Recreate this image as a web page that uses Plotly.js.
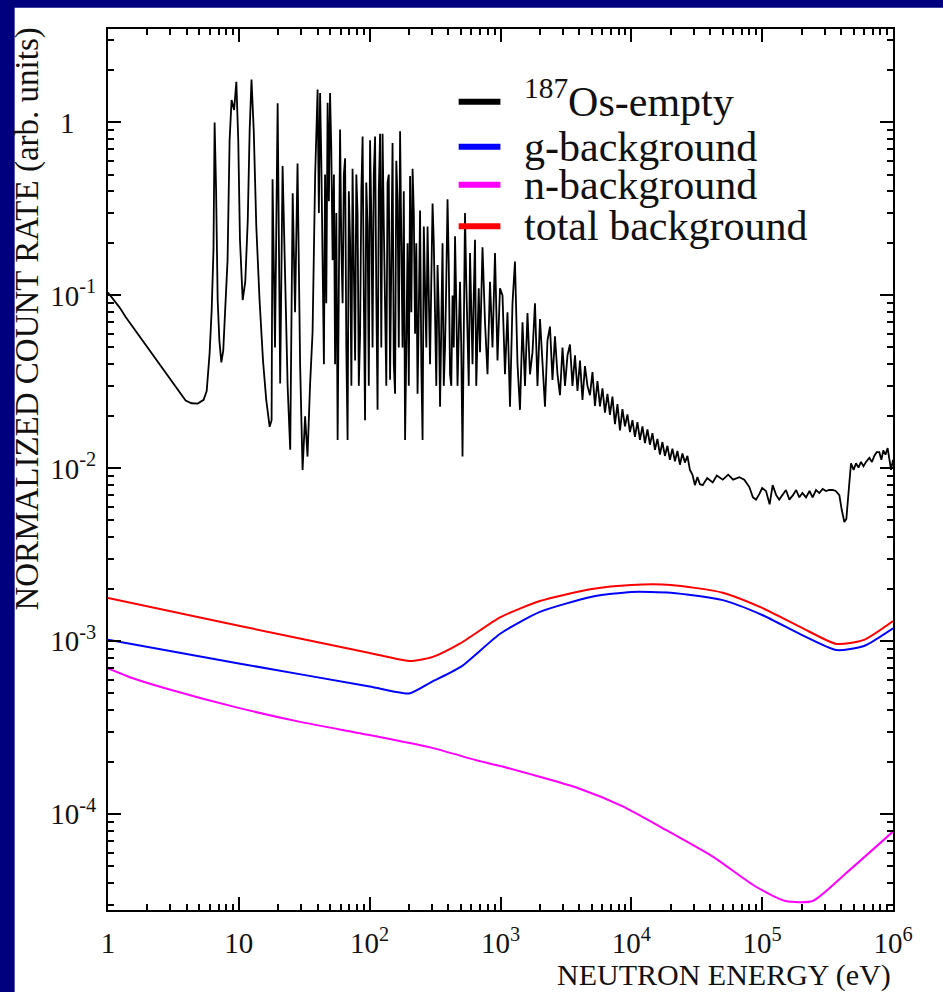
<!DOCTYPE html>
<html><head><meta charset="utf-8">
<script src="https://cdn.plot.ly/plotly-3.0.1.min.js"></script>
<style>
html,body{margin:0;padding:0;background:#00007f;width:943px;height:992px;overflow:hidden;}
#chart{position:absolute;left:0;top:0;width:943px;height:992px;}
</style></head><body><div id="chart"></div>
<script>
// 187Os-empty spectrum (energy in eV, normalized count rate)
const osEnergy = [1.0,1.105,1.228,1.365,1.517,1.746,2.01,2.314,2.665,3.066,3.53,3.92,4.36,4.85,5.38,5.68,5.98,6.2,6.4,6.53,6.7,6.89,7.1,7.35,7.6,7.9,8.2,8.5,8.8,9.2,9.57,9.9,10.2,10.7,11.2,11.7,12.1,12.5,13.0,13.6,14.4,15.3,16.2,17.2,17.8,
18.1,18.9,19.8,20.7,21.6,22.6,23.6,24.7,25.8,26.9,28.1,29.4,30.7,32.1,33.5,35.0,36.6,38.3,
40.0,40.9,41.8,42.7,43.7,44.7,45.6,46.6,47.7,48.8,49.8,50.9,52.1,53.3,54.4,55.6,56.9,58.2,59.4,60.7,62.1,63.5,64.9,66.3,67.8,69.3,70.9,72.5,74.0,75.6,77.4,79.1,80.8,82.6,84.5,86.4,88.3,90.2,92.2,94.2,96.4,98.5,100.7,102.9,105.2,107.5,110.0,112.4,114.9,117.4,120.1,122.7,125.5,128.3,131.1,134.0,137.0,140.0,143.2,146.4,149.6,152.9,156.4,159.8,163.4,167.0,170.8,174.6,178.4,182.3,186.5,190.6,194.8,199.1,203.6,208.1,212.8,217.5,222.3,227.2,232.3,237.4,242.8,248.2,253.7,259.3,265.1,271.0,277.0,283.1,289.4,295.8,302.5,309.2,316.0,323.0,330.3,337.6,345.1,352.7,360.6,368.5,376.8,385.1,393.7,402.4,411.4,420.5,429.9,439.4,449.2,459.1,469.4,479.7,490.5,501.3,512.5,523.8,535.5,547.3,559.6,571.9,584.8,597.7,611.1,624.6,638.5,652.6,667.2,681.9,697.2,712.9,
728.6,761.3,795.6,831.3,868.7,907.8,948.6,991.3,1036,1082,1131,1182,1235,1290,1349,1409,1473,1539,1608,1680,1756,1835,1917,2004,2094,2188,2286,2389,
2496,2608,2726,2849,2977,3111,3251,3396,3549,3709,3876,4050,4232,4422,4621,4829,5046,5272,5510,5757,6016,6287,6569,6865,7173,7496,7833,8185,8553,8937,9339,9759,10200,10660,11130,11640,12160,12710,13280,13870,14500,15150,15830,16540,17280,18060,18870,19720,20610,21540,22500,23520,24570,25680,26830,28040,29300,30620,32000,33440,
35110,38000,41880,45000,50000,55000,60000,67000,73000,79800,85000,89800,95000,100000,107000,114000,120300,128000,135000,143500,152000,161400,172000,182000,192300,203000,216400,230000,243000,258000,273500,290000,307600,325000,345900,365000,389000,405000,424800,440000,450100,465000,477300,500000,521300,545000,569000,595000,622000,659000,690000,719600,750000,785600,815000,843000,875000,909900,940000,966000,1000000];
const osRate = [0.104,0.094,0.085,0.075,0.067,0.058,0.050,0.043,0.037,0.032,0.0275,0.0247,0.0238,0.0237,0.0249,0.028,0.0464,0.082,0.184,1.0,0.41,0.094,0.055,0.041,0.048,0.094,0.16,0.79,1.35,1.18,1.72,0.79,0.21,0.094,0.12,0.27,0.90,1.77,0.9,0.25,0.094,0.042,0.0249,0.0174,0.019,
0.47,0.05,1.29,0.031,0.56,0.15,0.03,0.0128,0.39,0.08,0.58,0.04,0.0098,0.02,0.0117,0.03,0.061,0.49,
1.55,0.3,1.48,0.6,0.102,0.04,0.5,0.09,1.30,0.35,1.48,0.7,0.16,0.5,0.04,0.3,0.0146,0.1,0.91,0.2,0.09,0.5,0.62,0.05,0.0146,0.4,0.2,0.03,0.54,0.15,0.042,0.5,0.3,0.03,0.06,0.4,0.83,0.1,0.019,0.45,0.25,0.03,0.79,0.3,0.05,0.5,0.83,0.1,0.0218,0.4,0.86,0.05,0.86,0.25,0.06,0.03,0.45,0.5,0.0325,0.15,0.76,0.04,0.027,0.6,0.35,0.05,0.89,0.2,0.05,0.4,0.0146,0.05,0.2,0.03,0.49,0.08,0.54,0.3,0.06,0.2,0.027,0.08,0.31,0.04,0.0146,0.25,0.12,0.05,0.25,0.11,0.04,0.12,0.34,0.2,0.058,0.03,0.15,0.08,0.0227,0.1,0.2,0.03,0.05,0.12,0.36,0.15,0.035,0.03,0.10,0.05,0.22,0.09,0.03,0.06,0.12,0.05,0.0117,0.06,0.30,0.12,0.05,0.03,0.176,0.09,0.04,0.1,0.21,0.03,0.06,0.11,0.047,0.1,
0.19,0.07,0.035,0.12,0.05,0.176,0.042,0.11,0.10,0.035,0.08,0.0227,0.09,0.157,0.04,0.0218,0.07,0.03,0.079,0.035,0.047,0.09,0.03,0.073,0.04,0.0227,0.055,0.066,
0.0325,0.058,0.035,0.0265,0.05,0.03,0.045,0.052,0.03,0.045,0.028,0.042,0.0249,0.039,0.03,0.0265,0.036,0.023,0.032,0.0228,0.029,0.021,0.027,0.0204,0.026,0.018,0.0235,0.0166,0.022,0.0175,0.0205,0.0162,0.019,0.0152,0.0185,0.0146,0.0175,0.014,0.0168,0.0137,0.016,0.0128,0.0148,0.012,0.0142,0.0118,0.0135,0.0112,0.013,0.011,0.0126,0.0105,0.0122,0.0108,0.0118,0.0098,0.0092,0.0080,0.0089,0.0081,
0.0080,0.0088,0.0083,0.0091,0.0086,0.0092,0.0086,0.0089,0.0086,0.0078,0.0068,0.0066,0.0071,0.0077,0.0074,0.0062,0.0080,0.0070,0.0066,0.0070,0.0075,0.0066,0.0070,0.0075,0.0068,0.0072,0.0068,0.0074,0.0068,0.0075,0.0072,0.0076,0.0074,0.0075,0.0075,0.0074,0.0070,0.0058,0.0049,0.0051,0.0063,0.0092,0.0107,0.0098,0.0107,0.0101,0.0109,0.0103,0.0109,0.0115,0.0109,0.0118,0.0124,0.0124,0.0112,0.0127,0.0120,0.0131,0.0112,0.0098,0.0112];

// gamma and total background
const bgEnergy = [1,10,100,200,300,500,1000,2000,5000,10000,20000,50000,100000,200000,370000,600000,1000000];
const gBackground = [1.02e-3,7.45e-4,5.48e-4,5.0e-4,5.85e-4,7.14e-4,1.11e-3,1.48e-3,1.81e-3,1.93e-3,1.91e-3,1.73e-3,1.42e-3,1.09e-3,8.9e-4,9.4e-4,1.19e-3];
const totalBackground = [1.78e-3,1.23e-3,8.57e-4,7.7e-4,8.1e-4,9.8e-4,1.38e-3,1.71e-3,2.01e-3,2.12e-3,2.12e-3,1.91e-3,1.56e-3,1.20e-3,9.66e-4,1.02e-3,1.31e-3];

// neutron background
const nEnergy = [1,1.55,3,9.6,30,100,300,690,1000,3980,8600,17400,41900,89700,151000,243000,437000,1000000];
const nBackground = [6.98e-4,6.12e-4,5.25e-4,4.15e-4,3.41e-4,2.87e-4,2.42e-4,2.03e-4,1.90e-4,1.41e-4,1.11e-4,8.3e-5,5.69e-5,3.81e-5,3.15e-5,3.15e-5,4.56e-5,7.94e-5];

const seriesNames = ['<sup>187</sup>Os-empty','g-background','n-background','total background'];
const seriesColors = ['#000000','#0000ff','#ff00ff','#ff0000'];

const xTickVals = [1,10,100,1e3,1e4,1e5,1e6];
const xTickText = ['1','10','10<sup>2</sup>','10<sup>3</sup>','10<sup>4</sup>','10<sup>5</sup>','10<sup>6</sup>'];
const yTickVals = [1e-4,1e-3,1e-2,1e-1,1];
const yTickText = ['10<sup>-4</sup>','10<sup>-3</sup>','10<sup>-2</sup>','10<sup>-1</sup>','1\u00a0\u00a0\u00a0'];

const xTitle = 'NEUTRON ENERGY (eV)';
const yTitle = 'NORMALIZED COUNT RATE (arb. units)';

function minorVals(n0, n1){ const v=[]; for(let n=n0;n<=n1;n++){ for(let k=2;k<=9;k++){ v.push(k*Math.pow(10,n)); } } return v; }

const FONT = '"Liberation Serif", "DejaVu Serif", serif';

const traces = [
  {x: osEnergy, y: osRate, mode:'lines', line:{color:seriesColors[0], width:1.8, shape:'linear'}, name:seriesNames[0]},
  {x: bgEnergy, y: gBackground, mode:'lines', line:{color:seriesColors[1], width:2, shape:'spline', smoothing:0.6}, name:seriesNames[1]},
  {x: nEnergy, y: nBackground, mode:'lines', line:{color:seriesColors[2], width:2, shape:'spline', smoothing:0.6}, name:seriesNames[2]},
  {x: bgEnergy, y: totalBackground, mode:'lines', line:{color:seriesColors[3], width:2, shape:'spline', smoothing:0.6}, name:seriesNames[3]}
];

const shapes = [
  // white page panel behind the figure
  {type:'rect', xref:'paper', yref:'paper', x0:-0.1189, x1:1.07, y0:-0.1, y1:1.0242, fillcolor:'#ffffff', line:{width:0}, layer:'below'}
];
const annotations = [];
// manual legend
const legX0 = 0.4467, legX1 = 0.4999, legTextX = 0.527;
const legY = [0.9175, 0.8664, 0.8232, 0.7761];
const legTextY = [0.9215, 0.8664, 0.8232, 0.7761];
for (let i=0;i<4;i++){
  shapes.push({type:'line', xref:'paper', yref:'paper', x0:legX0, x1:legX1, y0:legY[i], y1:legY[i], line:{color:seriesColors[i], width:6}});
  annotations.push({xref:'paper', yref:'paper', x:legTextX, y:legTextY[i], xanchor:'left', yanchor:'middle', showarrow:false, text:seriesNames[i], font:{family:FONT, size:42, color:'#111'}});
}
annotations.push({xref:'paper', yref:'paper', x:1.0, y:-0.074, xanchor:'right', yanchor:'middle', showarrow:false, text:xTitle, font:{family:FONT, size:30, color:'#111'}});
annotations.push({xref:'paper', yref:'paper', x:-0.1023, y:0.671, xanchor:'center', yanchor:'middle', textangle:-90, showarrow:false, text:yTitle, font:{family:FONT, size:33, color:'#111'}});

const axisCommon = {
  type:'log', showline:true, linecolor:'#000', linewidth:2, mirror:'ticks',
  ticks:'inside', ticklen:13, tickwidth:2, tickcolor:'#000',
  showgrid:false, zeroline:false, tickmode:'array',
  tickfont:{family:FONT, size:29, color:'#111'}
};

const layout = {
  width:943, height:992,
  margin:{l:108.3, r:49.7, t:29.3, b:82},
  paper_bgcolor:'#00007f', plot_bgcolor:'#ffffff',
  showlegend:false,
  font:{family:FONT},
  xaxis: Object.assign({}, axisCommon, {range:[0,6], tickvals:xTickVals, ticktext:xTickText, ticklabelstandoff:6,
    minor:{tickmode:'array', tickvals:minorVals(0,5), ticks:'inside', ticklen:6, tickwidth:2, tickcolor:'#000', showgrid:false}}),
  yaxis: Object.assign({}, axisCommon, {range:[-4.5535,0.5405], tickvals:yTickVals, ticktext:yTickText, ticklabelstandoff:4,
    minor:{tickmode:'array', tickvals:minorVals(-5,0), ticks:'inside', ticklen:6, tickwidth:2, tickcolor:'#000', showgrid:false}}),
  shapes: shapes,
  annotations: annotations
};

Plotly.newPlot('chart', traces, layout, {displayModeBar:false, staticPlot:true});
</script></body></html>
